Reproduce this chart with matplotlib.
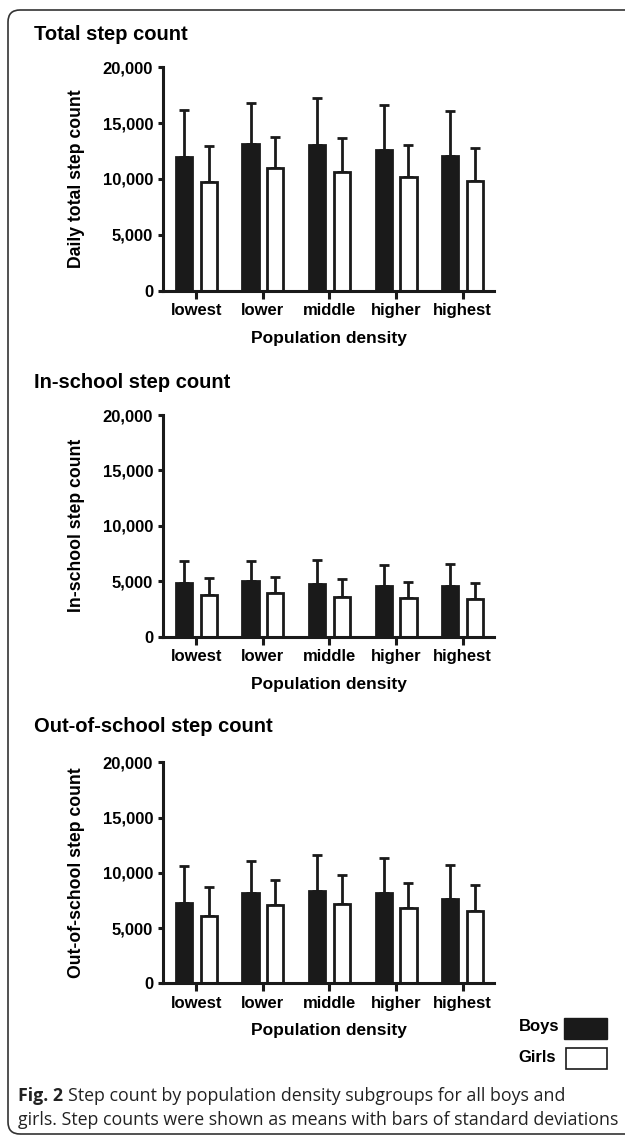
import numpy as np
import matplotlib
matplotlib.use("Agg")
import matplotlib.pyplot as plt
from matplotlib.patches import FancyBboxPatch, Rectangle
from matplotlib.transforms import IdentityTransform

categories = ['lowest', 'lower', 'middle', 'higher', 'highest']

# Total step count
boys_total = [12000, 13100, 13050, 12600, 12050]
boys_total_sd = [4200, 3700, 4200, 4000, 4000]
girls_total = [9750, 10950, 10600, 10200, 9850]
girls_total_sd = [3200, 2800, 3050, 2850, 2950]

# In-school step count
boys_in = [4800, 5050, 4780, 4600, 4600]
boys_in_sd = [2030, 1780, 2140, 1870, 1960]
girls_in = [3750, 3970, 3610, 3520, 3430]
girls_in_sd = [1570, 1380, 1590, 1440, 1440]

# Out-of-school step count
boys_out = [7300, 8150, 8380, 8150, 7630]
boys_out_sd = [3320, 2950, 3230, 3160, 3110]
girls_out = [6120, 7090, 7150, 6850, 6550]
girls_out_sd = [2630, 2260, 2620, 2230, 2380]

panel_titles = ['Total step count', 'In-school step count', 'Out-of-school step count']
y_labels = ['Daily total step count', 'In-school step count', 'Out-of-school step count']
x_label = 'Population density'
yticks = [0, 5000, 10000, 15000, 20000]
ytick_labels = ['0', '5,000', '10,000', '15,000', '20,000']

W, H = 625, 1138
BLACK = '#1a1a1a'
BOLD = ['Liberation Sans', 'DejaVu Sans']

fig = plt.figure(figsize=(W / 100, H / 100), dpi=100)

# rounded frame around the whole figure (pixel coords)
frame = FancyBboxPatch((8, 4), 660, 1124, boxstyle='round,pad=0,rounding_size=12',
                       transform=IdentityTransform(), facecolor='none',
                       edgecolor='#333333', linewidth=1.2)
fig.patches.append(frame)

panels = [
    (boys_total, boys_total_sd, girls_total, girls_total_sd),
    (boys_in, boys_in_sd, girls_in, girls_in_sd),
    (boys_out, boys_out_sd, girls_out, girls_out_sd),
]
# (zero line y, 20,000 y, title y) in pixels from top
layout = [(290.5, 67.3, 35), (636.7, 415, 383), (983.3, 762.3, 727)]

x = np.arange(len(categories))
off = 0.185
bw = 0.243
ax_left, ax_right = 163, 494

for (b, bsd, g, gsd), (y0, y1, ty), title, ylab in zip(panels, layout, panel_titles, y_labels):
    ax = fig.add_axes([ax_left / W, 1 - y0 / H, (ax_right - ax_left) / W, (y0 - y1) / H])
    ax.errorbar(x - off, b, yerr=[np.zeros(len(b)), bsd], fmt='none', ecolor=BLACK,
                elinewidth=2, capsize=3.4, capthick=2, zorder=1)
    ax.errorbar(x + off, g, yerr=[np.zeros(len(g)), gsd], fmt='none', ecolor=BLACK,
                elinewidth=2, capsize=3.4, capthick=2, zorder=1)
    ax.bar(x - off, b, width=bw, color=BLACK, edgecolor=BLACK, linewidth=2, zorder=2)
    ax.bar(x + off, g, width=bw, color='white', edgecolor=BLACK, linewidth=2, zorder=2)

    ax.set_xlim(-0.5, 4.47)
    ax.set_ylim(0, 20000)
    ax.set_yticks(yticks)
    ax.set_yticklabels(ytick_labels, fontfamily=BOLD, fontweight='bold', fontsize=12)
    ax.set_xticks(x)
    ax.set_xticklabels(categories, fontfamily=BOLD, fontweight='bold', fontsize=12)
    for s in ['top', 'right']:
        ax.spines[s].set_visible(False)
    for s in ['left', 'bottom']:
        ax.spines[s].set_linewidth(2.2)
        ax.spines[s].set_color(BLACK)
    ax.tick_params(axis='y', length=3.6, width=2.2, pad=3.5, color=BLACK)
    ax.tick_params(axis='x', length=5.8, width=2.2, pad=3, color=BLACK)

    ax.set_ylabel(ylab, fontfamily=BOLD, fontweight='bold', fontsize=12.7, va='center')
    ax.yaxis.set_label_coords(-86 / (ax_right - ax_left), 0.5)
    ax.set_xlabel(x_label, fontfamily=BOLD, fontweight='bold', fontsize=12.5, va='center')
    ax.xaxis.set_label_coords(0.5, -47.5 / (y0 - y1))

    fig.text(34 / W, 1 - ty / H, title, fontfamily=BOLD, fontweight='bold',
             fontsize=14.5, va='center', ha='left')

# legend
fig.text(559 / W, 111 / H, 'Boys', fontfamily=BOLD, fontweight='bold', fontsize=12,
         ha='right', va='center')
fig.text(556 / W, 80 / H, 'Girls', fontfamily=BOLD, fontweight='bold', fontsize=12,
         ha='right', va='center')
fig.patches.append(Rectangle((564, 99), 43, 21, transform=IdentityTransform(),
                             facecolor=BLACK, edgecolor=BLACK, linewidth=1))
fig.patches.append(Rectangle((566, 69), 41, 21, transform=IdentityTransform(),
                             facecolor='white', edgecolor=BLACK, linewidth=1.2))

# caption
CAP = ['Open Sans', 'DejaVu Sans']
fig_lbl = fig.text(18 / W, 1 - 1096 / H, 'Fig. 2', fontfamily=CAP, fontweight='bold',
                   fontsize=12.8, va='center', ha='left', color='#222222')
fig.canvas.draw()
bb = fig_lbl.get_window_extent()
fig.text((bb.x1 + 5) / W, 1 - 1096 / H,
         'Step count by population density subgroups for all boys and',
         fontfamily=CAP, fontsize=12.8, va='center', ha='left', color='#222222')
fig.text(18 / W, 1 - 1120 / H,
         'girls. Step counts were shown as means with bars of standard deviations',
         fontfamily=CAP, fontsize=12.8, va='center', ha='left', color='#222222')

fig.savefig('out.png', dpi=100)
